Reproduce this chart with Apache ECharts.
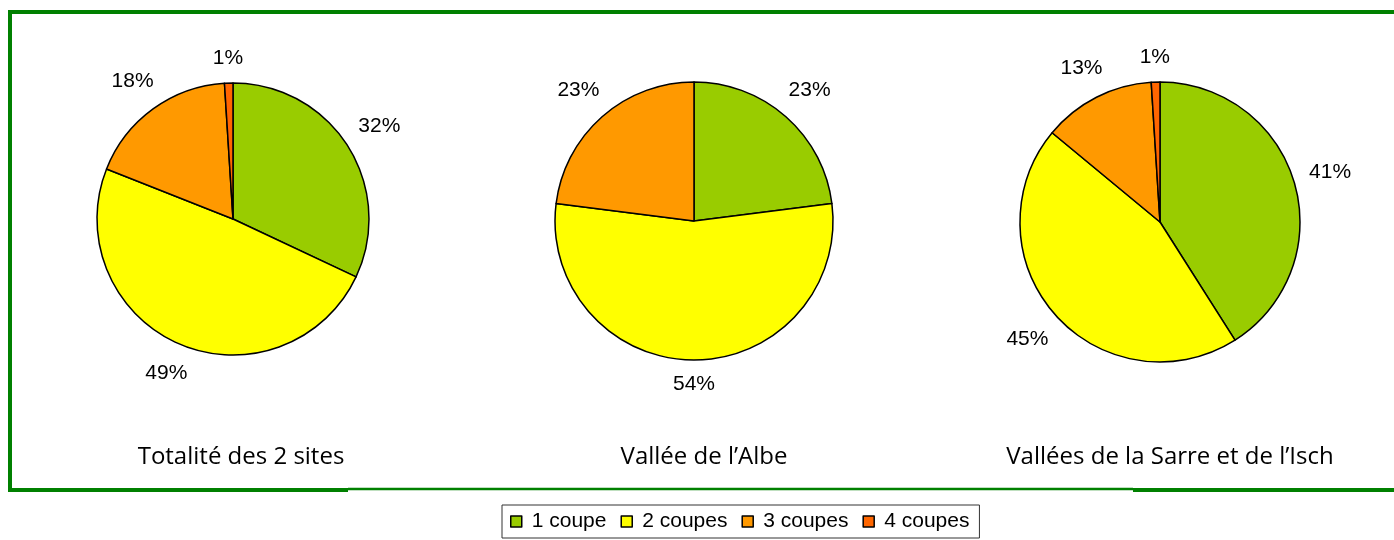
<!DOCTYPE html>
<html>
<head>
<meta charset="utf-8">
<script src="https://cdn.jsdelivr.net/npm/echarts@6/dist/echarts.min.js"></script>
<style>
  html, body { margin: 0; padding: 0; background: #fff; }
  #chart { width: 1394px; height: 540px; }
</style>
</head>
<body>
<div id="chart"></div>
<script>
// categories and values
var categories = ['1 coupe', '2 coupes', '3 coupes', '4 coupes'];
var colors = ['#99CC00', '#FFFF00', '#FF9900', '#FF6600'];
var totalite = [32, 49, 18, 1];
var albe = [23, 54, 23];
var sarreIsch = [41, 45, 13, 1];
var pieTitles = ['Totalité des 2 sites', 'Vallée de l\u2019Albe', 'Vallées de la Sarre et de l\u2019Isch'];

var chart = echarts.init(document.getElementById('chart'));

var pies = [
  { values: totalite, center: [233, 219], r: 136, titleX: 236 },
  { values: albe, center: [694, 221], r: 139, titleX: 699 },
  { values: sarreIsch, center: [1160, 222], r: 140, titleX: 1165 }
];

// mid angle of every slice (radians, counter-clockwise from 3 o'clock), pie starts at 12 o'clock going clockwise
function midAngles(values) {
  var total = values.reduce(function (a, b) { return a + b; }, 0);
  var acc = 0;
  return values.map(function (v) {
    var a = 90 - (acc + v / 2) / total * 360;
    acc += v;
    return a * Math.PI / 180;
  });
}
pies.forEach(function (p) { p.mid = midAngles(p.values); });

function toData(values) {
  return values.map(function (v, i) {
    return { name: categories[i], value: v, itemStyle: { color: colors[i] } };
  });
}

// put the label box just off the rim, centred on the slice direction (like Excel does)
function placeLabel(params) {
  var p = pies[params.seriesIndex];
  var t = p.mid[params.dataIndex];
  var w = params.labelRect.width, h = params.labelRect.height;
  var d = p.r + 14 + Math.abs(Math.cos(t)) * w / 2 + Math.abs(Math.sin(t)) * h / 2;
  return {
    x: p.center[0] + d * Math.cos(t),
    y: p.center[1] - d * Math.sin(t),
    align: 'center',
    verticalAlign: 'middle'
  };
}

var series = pies.map(function (p) {
  return {
    type: 'pie',
    center: p.center,
    radius: p.r,
    startAngle: 90,
    clockwise: true,
    silent: true,
    avoidLabelOverlap: false,
    label: {
      show: true,
      position: 'outside',
      formatter: '{c}%',
      fontFamily: 'Liberation Sans, Arial, sans-serif',
      fontSize: 21,
      color: '#000'
    },
    labelLine: { show: false },
    labelLayout: placeLabel,
    itemStyle: { borderColor: '#000', borderWidth: 1.5 },
    emphasis: { disabled: true },
    data: toData(p.values)
  };
});

var option = {
  animation: false,
  backgroundColor: '#fff',
  title: pies.map(function (p, i) {
    return {
      text: pieTitles[i],
      left: p.titleX,
      top: 440,
      textAlign: 'center',
      textStyle: {
        fontFamily: 'Open Sans, Noto Sans, sans-serif',
        fontWeight: 'normal',
        fontSize: 24,
        color: '#000'
      }
    };
  }),
  legend: {
    data: categories,
    left: 502,
    top: 505,
    padding: [6, 10, 6, 8],
    itemGap: 14,
    itemWidth: 11,
    itemHeight: 11,
    icon: 'rect',
    itemStyle: { borderColor: '#000', borderWidth: 1.5 },
    backgroundColor: '#fff',
    borderColor: '#333',
    borderWidth: 1,
    selectedMode: false,
    textStyle: {
      fontFamily: 'Liberation Sans, Arial, sans-serif',
      fontSize: 21,
      color: '#000',
      padding: [0, 0, 0, 5]
    }
  },
  graphic: [
    { type: 'line', shape: { x1: 8, y1: 12, x2: 1394, y2: 12 }, style: { stroke: '#008000', lineWidth: 4 } },
    { type: 'line', shape: { x1: 10, y1: 10, x2: 10, y2: 492 }, style: { stroke: '#008000', lineWidth: 4 } },
    { type: 'line', shape: { x1: 8, y1: 490, x2: 348, y2: 490 }, style: { stroke: '#008000', lineWidth: 4 } },
    { type: 'line', shape: { x1: 348, y1: 489, x2: 1133, y2: 489 }, style: { stroke: '#008000', lineWidth: 2.5 } },
    { type: 'line', shape: { x1: 1133, y1: 490, x2: 1394, y2: 490 }, style: { stroke: '#008000', lineWidth: 4 } }
  ],
  series: series
};

chart.setOption(option);
</script>
</body>
</html>
